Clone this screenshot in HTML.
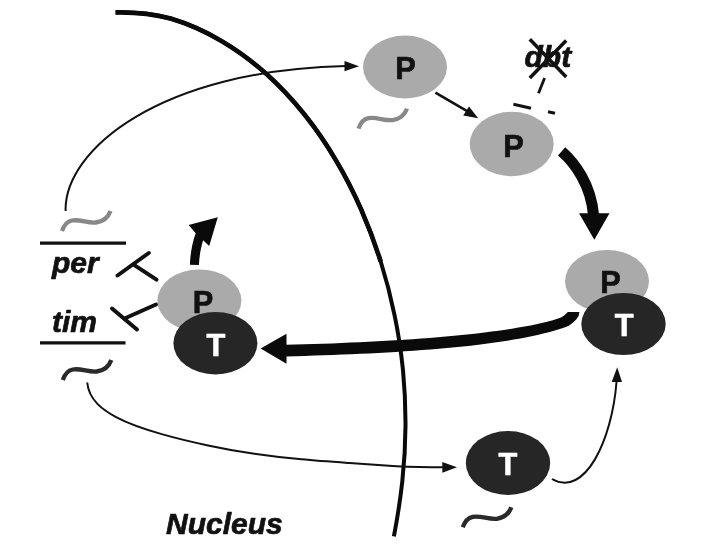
<!DOCTYPE html>
<html>
<head>
<meta charset="utf-8">
<style>
html,body{margin:0;padding:0;background:#fff;}
body{width:703px;height:545px;overflow:hidden;}
svg{display:block;filter:blur(0.45px);}
text{font-family:"Liberation Sans",sans-serif;font-weight:bold;stroke-width:0.7px;stroke-linejoin:round;}
</style>
</head>
<body>
<svg width="703" height="545" viewBox="0 0 703 545">
<defs>
<path id="sq" d="M0 0 C2 -6 5 -9.500 10 -10.500 C18 -12 26 -7.500 34 -8.500 C41 -9.500 46 -13 48.500 -20"/>
</defs>
<rect width="703" height="545" fill="#fff"/>
<!-- nuclear membrane -->
<path d="M115.6 12.4 C134.2 12.0 152.8 13.8 170.6 18.5 C188.4 23.8 205.4 31.5 221.4 40.9 C237.4 50.3 252.4 61.4 266.2 73.8 C280.0 86.2 292.7 99.9 304.3 114.3 C315.9 128.8 326.4 144.1 335.8 160.1 C345.3 176.0 353.7 192.5 361.2 209.5 C368.6 226.5 375.1 243.8 380.7 261.5 C386.3 279.2 390.9 297.2 394.6 315.4 C398.4 333.5 401.1 351.9 403.0 370.3 C404.8 388.8 405.6 407.3 405.5 425.9 C405.4 444.4 404.3 462.9 402.3 481.4 C400.3 499.8 397.4 518.1 393.9 536.3" fill="none" stroke="#0a0a0a" stroke-width="4"/>
<path d="M115.6 12.4 C134.2 12.0 152.8 13.8 170.6 18.5 C188.4 23.8 205.4 31.5 221.4 40.9 C237.4 50.3 252.4 61.4 266.2 73.8 C280.0 86.2 292.7 99.9 304.3 114.3 C315.9 128.8 326.4 144.1 335.8 160.1 C345.3 176.0 353.7 192.5 361.2 209.5 C368.6 226.5 375.1 243.8 380.7 261.5" fill="none" stroke="#0a0a0a" stroke-width="4.600"/>
<!-- thin arrow per -> P -->
<path d="M65.600 211 C64 150 160 70 346 66" fill="none" stroke="#111" stroke-width="2"/>
<polygon points="359,66.200 344.500,61.100 344.500,71.300" fill="#111"/>
<!-- thin arrow tim -> T -->
<path d="M87.2 382.5 C89 400.3 102.9 410.0 116.6 417.4 C130.4 424.8 146.1 429.7 161.7 434.1 C177.2 438.5 192.8 442.2 208.1 445.4 C223.5 448.7 238.8 451.5 254.3 453.8 C269.8 456.1 285.6 457.9 301.5 459.3 C317.4 460.8 333.5 461.9 349.4 463.0 C365.3 464.1 380.9 465.2 396.4 466.2 C411.8 467 428 467.3 444.1 467.3" fill="none" stroke="#111" stroke-width="2"/>
<polygon points="457,467.300 442.300,461.900 442.300,472.700" fill="#111"/>
<!-- thin arrow T -> T -->
<path d="M552 479 C585 498 612 440 616.500 382" fill="none" stroke="#111" stroke-width="2"/>
<polygon points="617.200,367.200 611.700,382 622,382" fill="#111"/>
<!-- arrow P1 -> P2 -->
<path d="M435.400 92.600 L468 111.700" fill="none" stroke="#111" stroke-width="2.600"/>
<polygon points="478.200,118.200 463.200,115.600 469,106.600" fill="#111"/>

<!-- thick arrow P2 -> P3 -->
<path d="M561.600 151.400 C575 163 591 185 593.500 215" fill="none" stroke="#0a0a0a" stroke-width="11"/>
<polygon points="579,213.300 609.500,213.300 594.300,239.800" fill="#0a0a0a"/>

<!-- thick arrow PT right -> PT left -->
<path d="M285.9 344.8 L295.1 344.6 L304.4 344.3 L313.7 344.0 L322.9 343.7 L332.2 343.4 L341.4 343.0 L350.5 342.6 L359.6 342.2 L368.6 341.8 L377.6 341.3 L386.5 340.8 L395.3 340.3 L404.0 339.8 L412.6 339.2 L421.1 338.6 L429.5 337.9 L437.8 337.2 L445.9 336.5 L453.9 335.8 L461.8 335.0 L469.5 334.2 L477.0 333.4 L484.4 332.5 L491.6 331.6 L498.6 330.7 L505.4 329.7 L512.0 328.7 L518.4 327.6 L524.6 326.5 L530.6 325.4 L536.3 324.2 L541.8 323.0 L547.0 321.7 L552.0 320.4 L556.6 319.0 L561.0 317.6 L564.5 315.2 L567.9 312.1 L579.4 312.1 L578.6 316.0 L576.2 319.5 L572.8 322.8 L568.8 325.7 L564.4 327.4 L559.8 328.9 L554.8 330.4 L549.7 331.9 L544.3 333.3 L538.6 334.7 L532.8 336.0 L526.7 337.2 L520.4 338.4 L513.8 339.6 L507.1 340.7 L500.2 341.8 L493.1 342.8 L485.8 343.8 L478.4 344.8 L470.7 345.7 L463.0 346.5 L455.0 347.3 L447.0 348.1 L438.8 348.8 L430.4 349.5 L422.0 350.1 L413.4 350.8 L404.7 351.3 L396.0 351.9 L387.1 352.4 L378.2 352.9 L369.2 353.4 L360.1 353.8 L351.0 354.2 L341.8 354.6 L332.6 355.0 L323.3 355.3 L314.1 355.6 L304.8 355.9 L295.5 356.2 L286.1 356.4 Z" fill="#0a0a0a"/>
<polygon points="260.600,348.500 286.500,333.800 286.500,363.800" fill="#0a0a0a"/>

<!-- curved arrow up from left P -->
<path d="M188.600 224.900 L217.800 217.200 L209.200 246.100 L203.100 240.300 C201 247 199.300 256 198.900 265.100 L189.900 264.700 C190.300 253 192.500 242 195.700 233.300 Z" fill="#0a0a0a"/>

<!-- ellipses -->
<ellipse cx="405" cy="67" rx="42" ry="31.500" fill="#aaa"/>
<ellipse cx="511.700" cy="144" rx="42" ry="32.200" fill="#aaa"/>
<ellipse cx="607" cy="281.300" rx="42" ry="31.400" fill="#aaa"/>
<ellipse cx="199.400" cy="300.500" rx="42" ry="31" fill="#aaa"/>

<!-- P letters -->
<g font-size="32" text-anchor="middle" fill="#111" stroke="#111" stroke-width="0.3" lengthAdjust="spacingAndGlyphs">
<text x="405.600" y="78.700" textLength="20.500" lengthAdjust="spacingAndGlyphs">P</text>
<text x="513.500" y="157" textLength="20.500" lengthAdjust="spacingAndGlyphs">P</text>
<text x="610.500" y="292.500" textLength="20.500" lengthAdjust="spacingAndGlyphs">P</text>
<text x="203" y="313" textLength="20.500" lengthAdjust="spacingAndGlyphs">P</text>
</g>
<!-- T ellipses -->
<ellipse cx="623.500" cy="324" rx="42.200" ry="31" fill="#262626"/>
<ellipse cx="215.400" cy="343.200" rx="42" ry="31.300" fill="#262626"/>
<ellipse cx="508" cy="463" rx="42.200" ry="32" fill="#262626"/>
<g font-size="32" text-anchor="middle" fill="#fff" stroke="#fff" stroke-width="0.3">
<text x="624.200" y="335.800" textLength="18.800" lengthAdjust="spacingAndGlyphs">T</text>
<text x="216" y="356.200" textLength="18.800" lengthAdjust="spacingAndGlyphs">T</text>
<text x="507.800" y="474.500" textLength="18.800" lengthAdjust="spacingAndGlyphs">T</text>
</g>

<!-- gene lines -->
<line x1="40" y1="243.200" x2="126" y2="243.200" stroke="#111" stroke-width="3.300"/>
<line x1="40" y1="342.800" x2="125.500" y2="342.800" stroke="#111" stroke-width="3.300"/>
<g font-size="30" font-style="italic" fill="#111" stroke="#111">
<text x="52" y="272.700">per</text>
<text x="52" y="331.500">tim</text>
<text x="166" y="533.800">Nucleus</text>
<text x="524.500" y="66.700">dbt</text>
</g>
<!-- dbt cross -->
<line x1="529.800" y1="39.300" x2="566.200" y2="77" stroke="#111" stroke-width="3.500"/>
<line x1="566.200" y1="40.500" x2="529.800" y2="78" stroke="#111" stroke-width="3.500"/>
<!-- dashed T -->
<line x1="544.600" y1="78" x2="538.500" y2="93.300" stroke="#111" stroke-width="2.800"/>
<line x1="513.400" y1="104.200" x2="531" y2="108.300" stroke="#111" stroke-width="3"/>
<line x1="548" y1="111.700" x2="555" y2="113.300" stroke="#111" stroke-width="3"/>

<!-- inhibition T-bars -->
<g stroke="#111" stroke-width="4" stroke-linecap="round">
<line x1="117.500" y1="275.500" x2="148.800" y2="253"/>
<line x1="133.600" y1="264.700" x2="156.500" y2="279.700"/>
<line x1="112" y1="308.500" x2="137" y2="329.500"/>
<line x1="124.500" y1="318.500" x2="156" y2="304.500"/>
</g>

<!-- squiggles -->
<g fill="none" stroke-width="4.300" stroke-linecap="butt">
<use href="#sq" x="62" y="231" stroke="#888"/>
<use href="#sq" x="62.800" y="380" stroke="#2a2a2a"/>
<use href="#sq" x="358.500" y="128.600" stroke="#888"/>
<use href="#sq" x="462.800" y="527.300" stroke="#2a2a2a"/>
</g>
</svg>
</body>
</html>
